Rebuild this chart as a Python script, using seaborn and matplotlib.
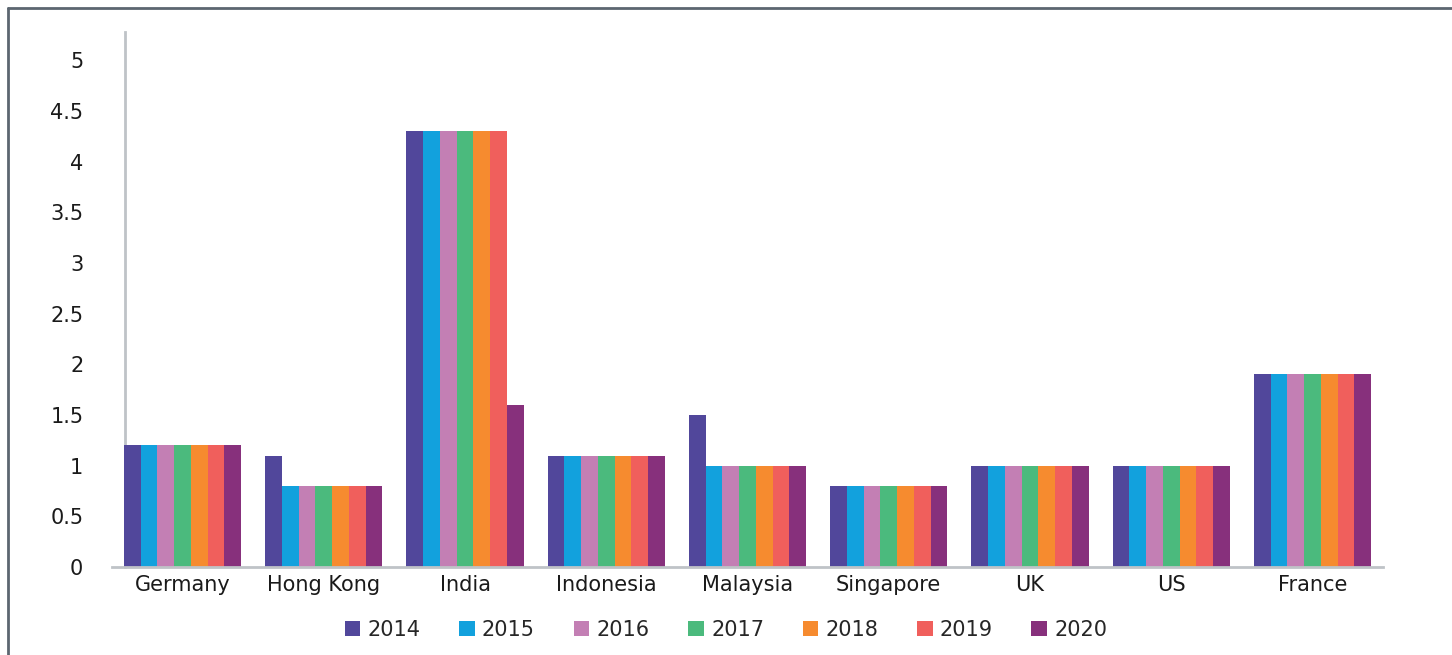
import matplotlib
matplotlib.use("Agg")
import matplotlib.pyplot as plt
import seaborn as sns
import pandas as pd
from matplotlib.lines import Line2D
from matplotlib.patches import Patch

countries = ["Germany", "Hong Kong", "India", "Indonesia", "Malaysia", "Singapore", "UK", "US", "France"]
years = ["2014", "2015", "2016", "2017", "2018", "2019", "2020"]
v2014 = [1.2, 1.1, 4.3, 1.1, 1.5, 0.8, 1.0, 1.0, 1.9]
v2015 = [1.2, 0.8, 4.3, 1.1, 1.0, 0.8, 1.0, 1.0, 1.9]
v2016 = [1.2, 0.8, 4.3, 1.1, 1.0, 0.8, 1.0, 1.0, 1.9]
v2017 = [1.2, 0.8, 4.3, 1.1, 1.0, 0.8, 1.0, 1.0, 1.9]
v2018 = [1.2, 0.8, 4.3, 1.1, 1.0, 0.8, 1.0, 1.0, 1.9]
v2019 = [1.2, 0.8, 4.3, 1.1, 1.0, 0.8, 1.0, 1.0, 1.9]
v2020 = [1.2, 0.8, 1.6, 1.1, 1.0, 0.8, 1.0, 1.0, 1.9]
colors = ["#51479B", "#12A1DD", "#C37FB4", "#4BBA7D", "#F68B2F", "#F05F5C", "#87307C"]

series = [v2014, v2015, v2016, v2017, v2018, v2019, v2020]
rows = []
for y, vals in zip(years, series):
    for c, v in zip(countries, vals):
        rows.append({"country": c, "year": y, "value": v})
df = pd.DataFrame(rows)

sns.set_style("white")
plt.rcParams["font.family"] = ["DejaVu Sans"]

fig = plt.figure(figsize=(14.52, 6.55), dpi=100)
ax = fig.add_axes([112/1452, 1-567/655, (1383-112)/1452, (567-32)/655])
sns.barplot(data=df, x="country", y="value", hue="year", order=countries,
            hue_order=years, palette=colors, width=0.83, saturation=1,
            linewidth=0, ax=ax, legend=False)
ax.set_ylim(0, 5.28)
ax.set_xlim(-0.5, len(countries) - 0.5)
ax.set_yticks([0, 0.5, 1, 1.5, 2, 2.5, 3, 3.5, 4, 4.5, 5])
ax.set_yticklabels(["0", "0.5", "1", "1.5", "2", "2.5", "3", "3.5", "4", "4.5", "5"])
ax.set_xlabel("")
ax.set_ylabel("")
ax.tick_params(axis="both", length=0, labelsize=15, colors="#1a1a1a")
ax.tick_params(axis="y", pad=30)
ax.tick_params(axis="x", pad=6)
for s in ["top", "right"]:
    ax.spines[s].set_visible(False)
for s in ["left", "bottom"]:
    ax.spines[s].set_color("#BFC3C7")
    ax.spines[s].set_linewidth(2)
ax.spines["left"].set_position(("data", -0.408))
ax.spines["left"].set_zorder(0.5)

handles = [Patch(facecolor=c, edgecolor="none") for c in colors]
fig.legend(handles, years, loc="center", bbox_to_anchor=(0.5, 1-630/655), ncol=7,
           frameon=False, fontsize=15, handlelength=0.75, handleheight=0.75,
           handletextpad=0.35, columnspacing=1.85)

# outer frame (cropped on right and bottom)
fig.add_artist(Line2D([8/1452, 8/1452], [0, 1-8/655], transform=fig.transFigure, color="#5C6670", linewidth=2))
fig.add_artist(Line2D([8/1452, 1], [1-8/655, 1-8/655], transform=fig.transFigure, color="#5C6670", linewidth=2))

fig.savefig("out.png", dpi=100)
